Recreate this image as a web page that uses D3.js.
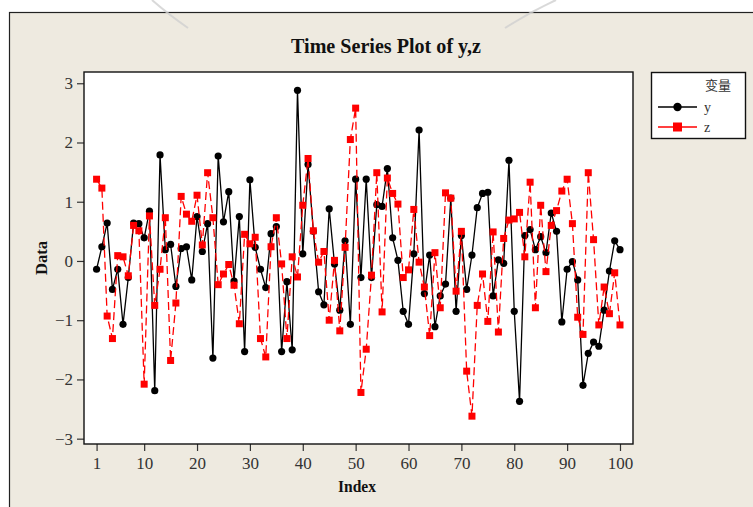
<!DOCTYPE html>
<html><head><meta charset="utf-8">
<script src="https://cdn.jsdelivr.net/npm/d3@7"></script>
<style>html,body{margin:0;padding:0;background:#fff;}svg{display:block;}</style>
</head><body>
<svg id="chart" width="753" height="507"></svg>
<script>
const yValues = [
-0.14, 0.24, 0.64, -0.48, -0.14, -1.07, -0.28, 0.64, 0.63, 0.39,
0.84, -2.19, 1.79, 0.19, 0.28, -0.43, 0.21, 0.24, -0.32, 0.75,
0.16, 0.63, -1.64, 1.77, 0.66, 1.17, -0.34, 0.75, -1.53, 1.37,
0.23, -0.14, -0.45, 0.46, 0.58, -1.53, -0.35, -1.50, 2.88, 0.12,
1.63, 0.50, -0.52, -0.74, 0.88, -0.05, -0.83, 0.34, -1.07, 1.38,
-0.28, 1.38, -0.28, 0.95, 0.92, 1.56, 0.39, 0.01, -0.85, -1.07,
0.12, 2.21, -0.55, 0.10, -1.11, -0.59, -0.39, 1.06, -0.85, 0.43,
-0.48, 0.10, 0.90, 1.14, 1.16, -0.59, 0.02, -0.04, 1.70, -0.85,
-2.37, 0.43, 0.53, 0.19, 0.41, 0.14, 0.81, 0.50, -1.03, -0.14,
-0.01, -0.32, -2.10, -1.56, -1.37, -1.44, -0.83, -0.17, 0.34, 0.19
];
const zValues = [
1.38, 1.23, -0.93, -1.31, 0.09, 0.07, -0.25, 0.60, 0.51, -2.08,
0.76, -0.75, -0.14, 0.73, -1.68, -0.71, 1.09, 0.79, 0.67, 1.11,
0.27, 1.49, 0.73, -0.40, -0.22, -0.06, -0.41, -1.06, 0.45, 0.29,
0.40, -1.31, -1.62, 0.24, 0.73, -0.05, -1.31, 0.07, -0.27, 0.94,
1.73, 0.51, -0.02, 0.16, -1.00, 0.01, -1.18, 0.23, 2.05, 2.58,
-2.22, -1.49, -0.24, 1.49, -0.86, 1.40, 1.14, 0.96, -0.28, -0.15,
0.87, -0.02, -0.44, -1.26, 0.14, -0.79, 1.15, 1.06, -0.51, 0.50,
-1.86, -2.62, -0.75, -0.22, -1.02, 0.49, -1.20, 0.38, 0.69, 0.71,
0.82, 0.07, 1.33, -0.79, 0.94, -0.18, 0.60, 0.85, 1.18, 1.38,
0.63, -0.95, -1.24, 1.49, 0.36, -1.08, -0.44, -0.89, -0.20, -1.08
];
const xTicks = [1, 10, 20, 30, 40, 50, 60, 70, 80, 90, 100];
const yTicks = [-3, -2, -1, 0, 1, 2, 3];
const seriesNames = ["y", "z"];
const titleText = "Time Series Plot of y,z";
const legendTitle = "变量";

const svg = d3.select("#chart");
const W = 753, H = 507;
const serif = "'Liberation Serif','Times New Roman',serif";
const bg = "#eeeae0";

// outer frame
svg.append("rect").attr("x", 0).attr("y", 0).attr("width", W).attr("height", H).attr("fill", "#fff");
svg.append("rect").attr("x", 9.5).attr("y", 12.5).attr("width", W + 20).attr("height", H + 20)
  .attr("fill", bg).attr("stroke", "#222").attr("stroke-width", 1.2);

// faint watermark strokes at top
const wm = svg.append("g").attr("fill", "none").attr("stroke", "#cfcfcf").attr("stroke-width", 2).attr("opacity", 0.8);
wm.append("path").attr("d", "M152,0 Q168,14 188,28");
wm.append("path").attr("d", "M505,28 Q530,12 556,0");

const plot = {left: 84, right: 633, top: 72, bottom: 444};
const x = d3.scaleLinear().domain([-1.38, 102.46]).range([plot.left, plot.right]);
const y = d3.scaleLinear().domain([-3.09, 3.19]).range([plot.bottom, plot.top]);

svg.append("rect").attr("x", plot.left).attr("y", plot.top)
  .attr("width", plot.right - plot.left).attr("height", plot.bottom - plot.top)
  .attr("fill", "#fff");

// axes
const xAxis = svg.append("g").attr("transform", `translate(0,${plot.bottom})`)
  .call(d3.axisBottom(x).tickValues(xTicks).tickSize(7).tickPadding(6).tickSizeOuter(0));
const yAxis = svg.append("g").attr("transform", `translate(${plot.left},0)`)
  .call(d3.axisLeft(y).tickValues(yTicks).tickSize(7).tickPadding(4).tickSizeOuter(0)
    .tickFormat(d => d < 0 ? "\u2212" + Math.abs(d) : d));
[xAxis, yAxis].forEach(a => {
  a.select(".domain").remove();
  a.selectAll(".tick line").attr("stroke", "#333").attr("stroke-width", 1.2);
  a.selectAll(".tick text").attr("fill", "#333").attr("font-family", serif).attr("font-size", 17);
});

svg.append("rect").attr("x", plot.left).attr("y", plot.top)
  .attr("width", plot.right - plot.left).attr("height", plot.bottom - plot.top)
  .attr("fill", "none").attr("stroke", "#111").attr("stroke-width", 1.4);

// series
const yData = yValues.map((v, i) => ({i: i + 1, v}));
const zData = zValues.map((v, i) => ({i: i + 1, v}));
const line = d3.line().x(d => x(d.i)).y(d => y(d.v));

svg.append("path").datum(yData).attr("d", line).attr("fill", "none")
  .attr("stroke", "#000").attr("stroke-width", 1.3);
svg.append("g").selectAll("circle").data(yData).join("circle")
  .attr("cx", d => x(d.i)).attr("cy", d => y(d.v)).attr("r", 3.6).attr("fill", "#000");

svg.append("path").datum(zData).attr("d", line).attr("fill", "none")
  .attr("stroke", "#ff0000").attr("stroke-width", 1.3).attr("stroke-dasharray", "8,4");
svg.append("g").selectAll("rect").data(zData).join("rect")
  .attr("x", d => x(d.i) - 3.5).attr("y", d => y(d.v) - 3.5).attr("width", 7).attr("height", 7)
  .attr("fill", "#ff0000");

// titles
svg.append("text").attr("x", 386).attr("y", 53).attr("text-anchor", "middle")
  .attr("font-family", serif).attr("font-weight", "bold").attr("font-size", 20)
  .attr("textLength", 190).attr("lengthAdjust", "spacingAndGlyphs")
  .attr("fill", "#111").text(titleText);
svg.append("text").attr("x", 357).attr("y", 492).attr("text-anchor", "middle")
  .attr("font-family", serif).attr("font-weight", "bold").attr("font-size", 17)
  .attr("textLength", 38).attr("lengthAdjust", "spacingAndGlyphs")
  .attr("fill", "#111").text("Index");
svg.append("text").attr("transform", "translate(47,258) rotate(-90)").attr("text-anchor", "middle")
  .attr("font-family", serif).attr("font-weight", "bold").attr("font-size", 17)
  .attr("textLength", 34).attr("lengthAdjust", "spacingAndGlyphs")
  .attr("fill", "#111").text("Data");

// legend
const lg = svg.append("g");
lg.append("rect").attr("x", 651.5).attr("y", 72.5).attr("width", 94).attr("height", 66)
  .attr("fill", "#fff").attr("stroke", "#111").attr("stroke-width", 1.4);
lg.append("text").attr("x", 718).attr("y", 90).attr("text-anchor", "middle")
  .attr("font-family", "'Noto Sans CJK SC',sans-serif").attr("font-size", 13).attr("fill", "#333")
  .text(legendTitle);
const legY = [107, 127];
seriesNames.forEach((name, k) => {
  const ly = legY[k];
  lg.append("line").attr("x1", 658).attr("x2", 697).attr("y1", ly).attr("y2", ly)
    .attr("stroke", k === 0 ? "#000" : "#ff0000").attr("stroke-width", 1.3);
  if (k === 0) {
    lg.append("circle").attr("cx", 677.5).attr("cy", ly).attr("r", 4.2).attr("fill", "#000");
  } else {
    lg.append("rect").attr("x", 673).attr("y", ly - 4.5).attr("width", 9).attr("height", 9).attr("fill", "#ff0000");
  }
  lg.append("text").attr("x", 704).attr("y", ly + 5).attr("font-family", serif).attr("font-size", 14)
    .attr("fill", "#333").text(name);
});
</script>
</body></html>
